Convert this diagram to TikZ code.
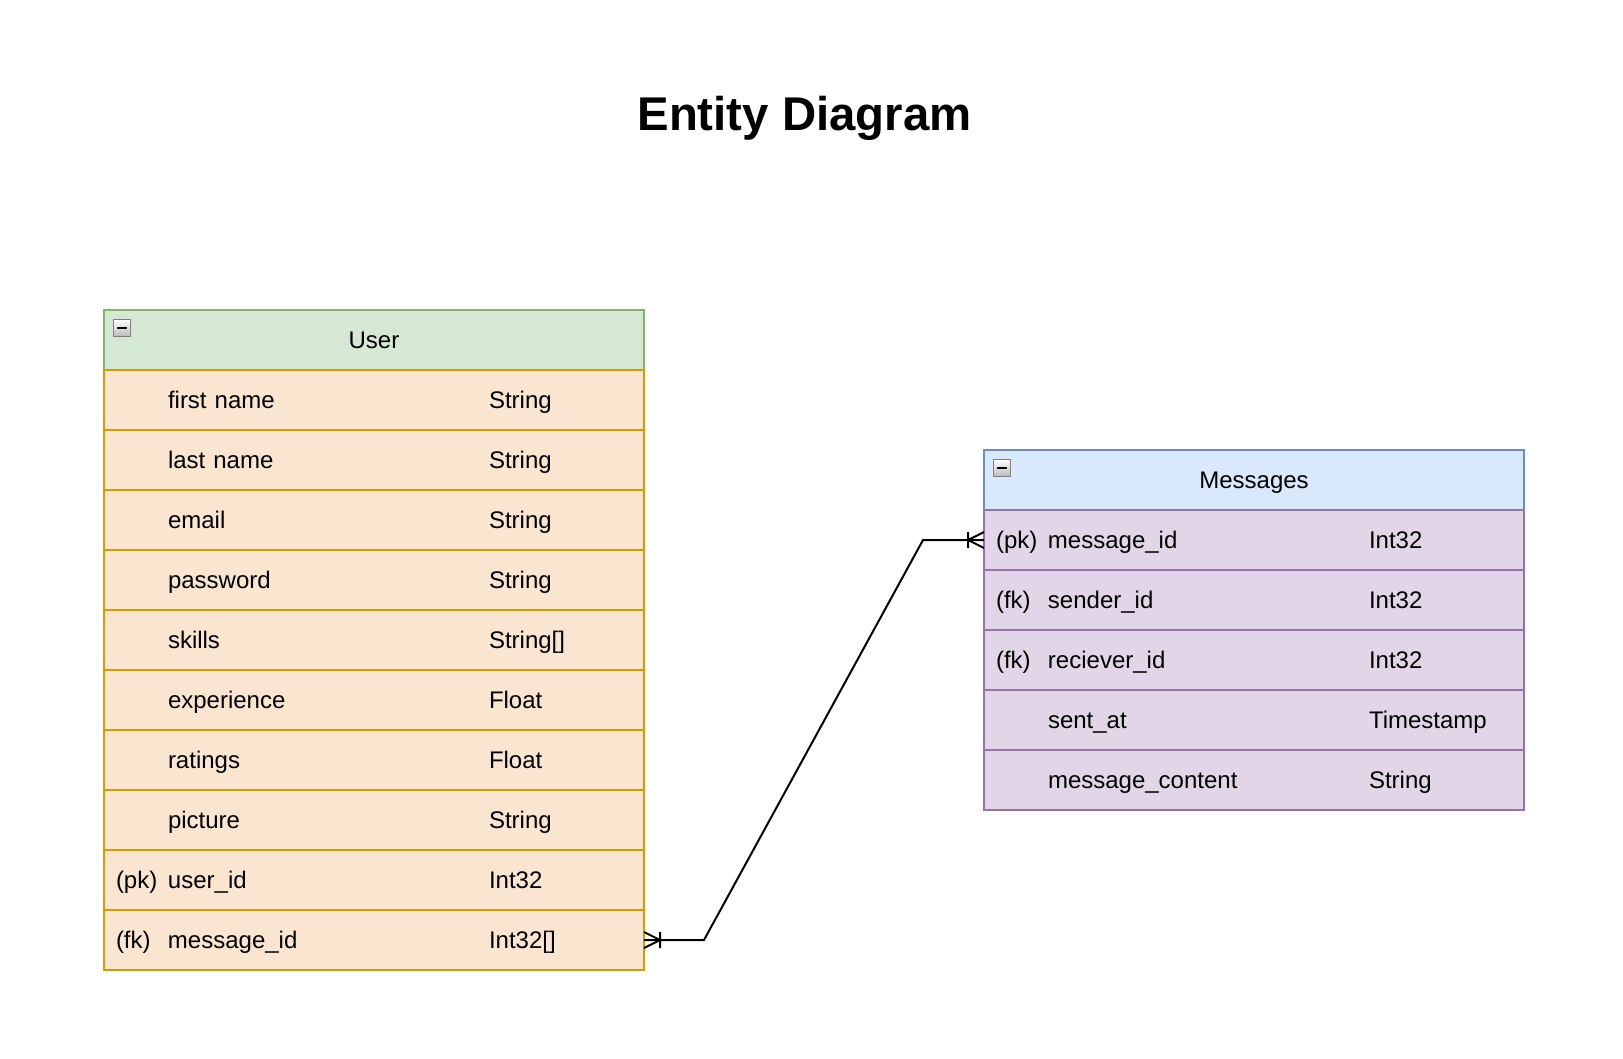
\documentclass[tikz,border=0pt]{standalone}
\usepackage{fontspec}
\setmainfont{Liberation Sans}
\usepackage{tikz}
\usetikzlibrary{positioning}
\usepackage{color}

\definecolor{userhead}{HTML}{D5E8D4}
\definecolor{userheadline}{HTML}{82B366}
\definecolor{userrow}{HTML}{FAE5D0}
\definecolor{userrowline}{HTML}{D79B00}
\definecolor{msghead}{HTML}{DAE8FC}
\definecolor{msgheadline}{HTML}{6C8EBF}
\definecolor{msgrow}{HTML}{E1D5E7}
\definecolor{msgrowline}{HTML}{9673A6}

\newcommand{\fieldrow}[3]{\makebox[39pt][l]{#1}\makebox[240.75pt][l]{#2}#3}

\begin{document}
\begin{tikzpicture}[x=0.75pt, y=-0.75pt,
font=\fontsize{18}{21}\selectfont,
tablehead/.style={rectangle, line width=1.5pt, outer sep=0pt, minimum width=405pt, minimum height=45pt, inner ysep=0pt, text height=12.9pt, text depth=0pt},
tablerow/.style={rectangle, line width=1.5pt, outer sep=0pt, text width=387pt, inner xsep=9pt, inner ysep=0pt, minimum height=45pt, text height=12.9pt, text depth=0pt, align=left},
userheadnode/.style={tablehead, draw=userheadline, fill=userhead},
userrownode/.style={tablerow, draw=userrowline, fill=userrow},
msgheadnode/.style={tablehead, draw=msgheadline, fill=msghead},
msgrownode/.style={tablerow, draw=msgrowline, fill=msgrow},
collapsebox/.style={rectangle, draw=gray, line width=1pt, top color=white, bottom color=gray!55, minimum size=12.75pt, inner sep=0pt},
titletext/.style={font=\fontsize{35.5}{40}\selectfont\bfseries, anchor=base},
relline/.style={line width=1.5pt},
crowfoot/.pic={\draw[relline] (0,-8) -- (16,0) -- (0,8) (16,-8) -- (16,8);},
]
\useasboundingbox (0,0) rectangle (1623,1059);

%Title
\node[titletext] (title) at (804.5,131) {Entity Diagram};

%User table
\node[userheadnode]     (user) at (374,340)         {User};
\node[userrownode]      (u1)  [below=0pt of user]   {\fieldrow{}{first name}{String}};
\node[userrownode]      (u2)  [below=0pt of u1]     {\fieldrow{}{last name}{String}};
\node[userrownode]      (u3)  [below=0pt of u2]     {\fieldrow{}{email}{String}};
\node[userrownode]      (u4)  [below=0pt of u3]     {\fieldrow{}{password}{String}};
\node[userrownode]      (u5)  [below=0pt of u4]     {\fieldrow{}{skills}{String[]}};
\node[userrownode]      (u6)  [below=0pt of u5]     {\fieldrow{}{experience}{Float}};
\node[userrownode]      (u7)  [below=0pt of u6]     {\fieldrow{}{ratings}{Float}};
\node[userrownode]      (u8)  [below=0pt of u7]     {\fieldrow{}{picture}{String}};
\node[userrownode]      (u9)  [below=0pt of u8]     {\fieldrow{(pk)}{user\_id}{Int32}};
\node[userrownode]      (u10) [below=0pt of u9]     {\fieldrow{(fk)}{message\_id}{Int32[]}};
\node[collapsebox]      (userbox) [below right=6.75pt and 6.75pt of user.north west] {\rule{7.5pt}{1.5pt}};

%Messages table
\node[msgheadnode]      (msg) at (1254,480)         {Messages};
\node[msgrownode]       (m1)  [below=0pt of msg]    {\fieldrow{(pk)}{message\_id}{Int32}};
\node[msgrownode]       (m2)  [below=0pt of m1]     {\fieldrow{(fk)}{sender\_id}{Int32}};
\node[msgrownode]       (m3)  [below=0pt of m2]     {\fieldrow{(fk)}{reciever\_id}{Int32}};
\node[msgrownode]       (m4)  [below=0pt of m3]     {\fieldrow{}{sent\_at}{Timestamp}};
\node[msgrownode]       (m5)  [below=0pt of m4]     {\fieldrow{}{message\_content}{String}};
\node[collapsebox]      (msgbox) [below right=6.75pt and 6.75pt of msg.north west] {\rule{7.5pt}{1.5pt}};

%Lines
\path (m1.west) ++(-61,0) coordinate (bendB);
\draw[relline] (u10.east) -- ++(60,0) coordinate (bendA) -- (bendB) -- (m1.west);
\pic at (u10.east) {crowfoot};
\pic[xscale=-1] at (m1.west) {crowfoot};
\end{tikzpicture}
\end{document}
